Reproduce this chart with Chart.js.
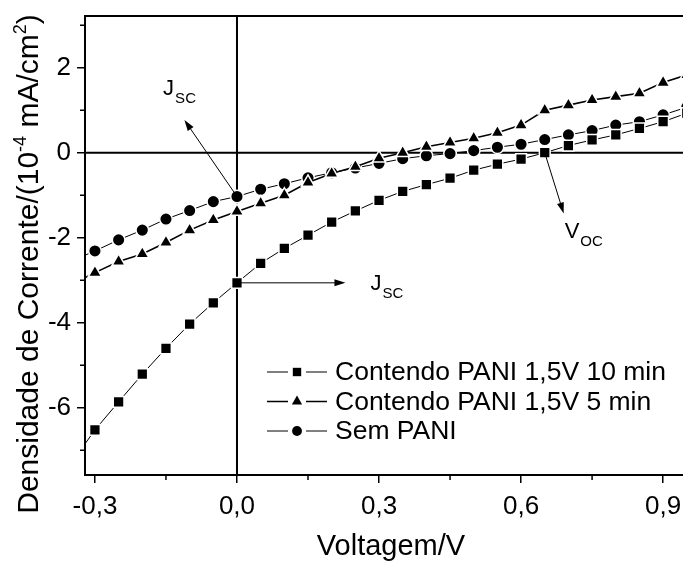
<!DOCTYPE html>
<html>
<head>
<meta charset="utf-8">
<script src="https://cdn.jsdelivr.net/npm/chart.js@4.4.0/dist/chart.umd.min.js"></script>
<style>
    body { margin: 0; background: #fff; }
</style>
</head>
<body>
<canvas id="myChart" width="683" height="561"></canvas>
<script>
    // J-V curves (x in V, y in 10^-4 mA/cm2)
    var voltages = [-0.35, -0.3, -0.25, -0.2, -0.15, -0.1, -0.05, 0, 0.05, 0.1, 0.15, 0.2, 0.25, 0.3,
                    0.35, 0.4, 0.45, 0.5, 0.55, 0.6, 0.65, 0.7, 0.75, 0.8, 0.85, 0.9, 0.95];
    var pani10 = [-7.3, -6.52, -5.86, -5.21, -4.60, -4.03, -3.53, -3.06, -2.60, -2.25, -1.94, -1.63, -1.37, -1.12,
                  -0.91, -0.75, -0.60, -0.41, -0.27, -0.15, 0.0, 0.17, 0.30, 0.42, 0.57, 0.73, 0.93];
    var pani5 = [-3.1, -2.82, -2.56, -2.38, -2.11, -1.82, -1.58, -1.38, -1.19, -1.00, -0.70, -0.49, -0.33, -0.13,
                 0.0, 0.14, 0.24, 0.34, 0.47, 0.65, 1.0, 1.12, 1.24, 1.32, 1.40, 1.65, 1.83];
    var semPani = [-2.55, -2.31, -2.05, -1.82, -1.56, -1.36, -1.15, -1.03, -0.86, -0.73, -0.59, -0.47, -0.36, -0.25,
                   -0.14, -0.07, -0.02, 0.05, 0.13, 0.20, 0.31, 0.42, 0.52, 0.65, 0.73, 0.89, 1.07];
    var seriesNames = ['Contendo PANI 1,5V 10 min', 'Contendo PANI 1,5V 5 min', 'Sem PANI'];

    var xTicks = [-0.3, 0, 0.3, 0.6, 0.9];
    var xMinor = [-0.15, 0.15, 0.45, 0.75];
    var yTicks = [-6, -4, -2, 0, 2];
    var yMinor = [-7, -5, -3, -1, 1, 3];

    var FONT = '"Liberation Sans", Arial, sans-serif';
    var i0 = voltages.indexOf(0);
    var i65 = voltages.indexOf(0.65);

    // arrows + labels, in data units
    var notes = [
        {from: [0, semPani[i0]], to: [-0.111, 0.77], main: 'J', sub: 'SC', at: [-0.156, 1.36]},
        {from: [0, pani10[i0]], to: [0.229, pani10[i0]], main: 'J', sub: 'SC', at: [0.282, -3.23]},
        {from: [0.65, pani10[i65]], to: [0.69, -1.43], main: 'V', sub: 'OC', at: [0.692, -2.01]}
    ];

    function pts(ys) {
        return voltages.map(function (v, i) { return {x: v, y: ys[i]}; });
    }

    function marker(ctx, style, r, x, y) {
        ctx.beginPath();
        if (style === 'rect') {
            var s = r * Math.SQRT1_2;
            ctx.rect(x - s, y - s, 2 * s, 2 * s);
        } else if (style === 'triangle') {
            var h = r * Math.sin(2 * Math.PI / 3);
            ctx.moveTo(x, y - r);
            ctx.lineTo(x + h, y + r / 2);
            ctx.lineTo(x - h, y + r / 2);
            ctx.closePath();
        } else {
            ctx.arc(x, y, r, 0, 2 * Math.PI);
        }
        ctx.fill();
    }

    function noPad(s) {
        s.paddingLeft = 0; s.paddingRight = 0; s.paddingTop = 0; s.paddingBottom = 0;
    }

    var extras = {
        id: 'extras',
        beforeDatasetsDraw: function (chart) {
            var ctx = chart.ctx, a = chart.chartArea;
            var xs = chart.scales.x, ys = chart.scales.y;
            ctx.save();
            ctx.strokeStyle = '#000';
            ctx.lineWidth = 2;
            ctx.beginPath();
            // frame top
            ctx.moveTo(a.left, a.top); ctx.lineTo(a.right, a.top);
            // zero lines
            var x0 = xs.getPixelForValue(0), y0 = ys.getPixelForValue(0);
            ctx.moveTo(x0, a.top); ctx.lineTo(x0, a.bottom);
            ctx.moveTo(a.left, y0); ctx.lineTo(a.right, y0);
            ctx.stroke();
            // minor ticks
            ctx.lineWidth = 1.5;
            ctx.beginPath();
            xMinor.forEach(function (v) {
                var p = xs.getPixelForValue(v);
                ctx.moveTo(p, a.bottom); ctx.lineTo(p, a.bottom + 5);
            });
            yMinor.forEach(function (v) {
                var p = ys.getPixelForValue(v);
                ctx.moveTo(a.left, p); ctx.lineTo(a.left - 5, p);
            });
            ctx.stroke();
            ctx.restore();
        },
        afterDatasetsDraw: function (chart) {
            var ctx = chart.ctx;
            var xs = chart.scales.x, ys = chart.scales.y;
            ctx.save();
            ctx.fillStyle = '#000';
            ctx.strokeStyle = '#000';
            notes.forEach(function (n) {
                var x1 = xs.getPixelForValue(n.from[0]), y1 = ys.getPixelForValue(n.from[1]);
                var x2 = xs.getPixelForValue(n.to[0]), y2 = ys.getPixelForValue(n.to[1]);
                var ang = Math.atan2(y2 - y1, x2 - x1);
                ctx.lineWidth = 1;
                ctx.beginPath();
                ctx.moveTo(x1, y1);
                ctx.lineTo(x2 - 9 * Math.cos(ang), y2 - 9 * Math.sin(ang));
                ctx.stroke();
                ctx.beginPath();
                ctx.moveTo(x2, y2);
                ctx.lineTo(x2 - 11 * Math.cos(ang) + 3.5 * Math.sin(ang), y2 - 11 * Math.sin(ang) - 3.5 * Math.cos(ang));
                ctx.lineTo(x2 - 11 * Math.cos(ang) - 3.5 * Math.sin(ang), y2 - 11 * Math.sin(ang) + 3.5 * Math.cos(ang));
                ctx.closePath();
                ctx.fill();

                var tx = xs.getPixelForValue(n.at[0]), ty = ys.getPixelForValue(n.at[1]);
                ctx.textBaseline = 'alphabetic';
                ctx.textAlign = 'left';
                ctx.font = '22px ' + FONT;
                ctx.fillText(n.main, tx, ty);
                var w = ctx.measureText(n.main).width;
                ctx.font = '15px ' + FONT;
                ctx.fillText(n.sub, tx + w + 1, ty + 8);
            });

            // legend inside plot
            var rowY = [372, 401.5, 431];
            chart.data.datasets.forEach(function (ds, i) {
                var y = rowY[i];
                ctx.lineWidth = ds.borderWidth;
                ctx.beginPath();
                ctx.moveTo(267, y); ctx.lineTo(288, y);
                ctx.moveTo(306, y); ctx.lineTo(327, y);
                ctx.stroke();
                marker(ctx, ds.pointStyle, ds.pointRadius * 0.78, 297, y);
                ctx.font = '26.5px ' + FONT;
                ctx.textBaseline = 'middle';
                ctx.fillText(ds.label, 335, y + 1);
            });

            // x axis title (centred on the uncropped plot width)
            ctx.font = '29px ' + FONT;
            ctx.textAlign = 'center';
            ctx.textBaseline = 'alphabetic';
            ctx.fillText('Voltagem/V', 391, 555);

            // y axis title with superscripts
            ctx.textAlign = 'left';
            ctx.translate(27, 264);
            ctx.rotate(-Math.PI / 2);
            var parts = [['Densidade de Corrente/(10', 0], ['-4', 1], [' mA/cm', 0], ['2', 1], [')', 0]];
            var total = 0;
            parts.forEach(function (p) {
                ctx.font = (p[1] ? '18px ' : '30px ') + FONT;
                total += ctx.measureText(p[0]).width;
            });
            var cx = -total / 2;
            parts.forEach(function (p) {
                ctx.font = (p[1] ? '18px ' : '30px ') + FONT;
                ctx.fillText(p[0], cx, p[1] ? -1 : 11);
                cx += ctx.measureText(p[0]).width;
            });
            ctx.restore();
        }
    };

    var chart = new Chart(document.getElementById('myChart').getContext('2d'), {
        type: 'line',
        data: {
            datasets: [{
                label: seriesNames[0],
                data: pts(pani10),
                borderColor: '#000', backgroundColor: '#000',
                borderWidth: 1,
                pointStyle: 'rect', pointRadius: 7.6,
                pointBorderWidth: 1.5, pointBorderColor: '#fff', pointBackgroundColor: '#000'
            }, {
                label: seriesNames[1],
                data: pts(pani5),
                borderColor: '#000', backgroundColor: '#000',
                borderWidth: 1.6,
                pointStyle: 'triangle', pointRadius: 7.6,
                pointBorderWidth: 1.5, pointBorderColor: '#fff', pointBackgroundColor: '#000'
            }, {
                label: seriesNames[2],
                data: pts(semPani),
                borderColor: '#000', backgroundColor: '#000',
                borderWidth: 1,
                pointStyle: 'circle', pointRadius: 6.3,
                pointBorderWidth: 1.5, pointBorderColor: '#fff', pointBackgroundColor: '#000'
            }]
        },
        options: {
            responsive: false,
            animation: false,
            events: [],
            layout: {autoPadding: false, padding: {top: 16, right: 0, left: 0, bottom: 0}},
            elements: {line: {tension: 0}},
            plugins: {legend: {display: false}, tooltip: {enabled: false}},
            scales: {
                x: {
                    type: 'linear', min: -0.321, max: 0.942,
                    afterFit: function (s) { s.height = 86; noPad(s); },
                    afterBuildTicks: function (s) { s.ticks = xTicks.map(function (v) { return {value: v}; }); },
                    border: {display: true, color: '#000', width: 2},
                    grid: {display: true, drawOnChartArea: false, drawTicks: true, tickLength: 8, color: '#000', lineWidth: 1.5},
                    ticks: {
                        color: '#000', font: {family: FONT, size: 26}, padding: 8,
                        maxRotation: 0, autoSkip: false,
                        callback: function (v) { return v.toFixed(1).replace('.', ','); }
                    }
                },
                y: {
                    type: 'linear', min: -7.58, max: 3.216,
                    afterFit: function (s) { s.width = 85; noPad(s); },
                    afterBuildTicks: function (s) { s.ticks = yTicks.map(function (v) { return {value: v}; }); },
                    border: {display: true, color: '#000', width: 2},
                    grid: {display: true, drawOnChartArea: false, drawTicks: true, tickLength: 8, color: '#000', lineWidth: 1.5},
                    ticks: {
                        color: '#000', font: {family: FONT, size: 26}, padding: 6,
                        callback: function (v) { return String(v); }
                    }
                }
            }
        },
        plugins: [extras]
    });
</script>
</body>
</html>
